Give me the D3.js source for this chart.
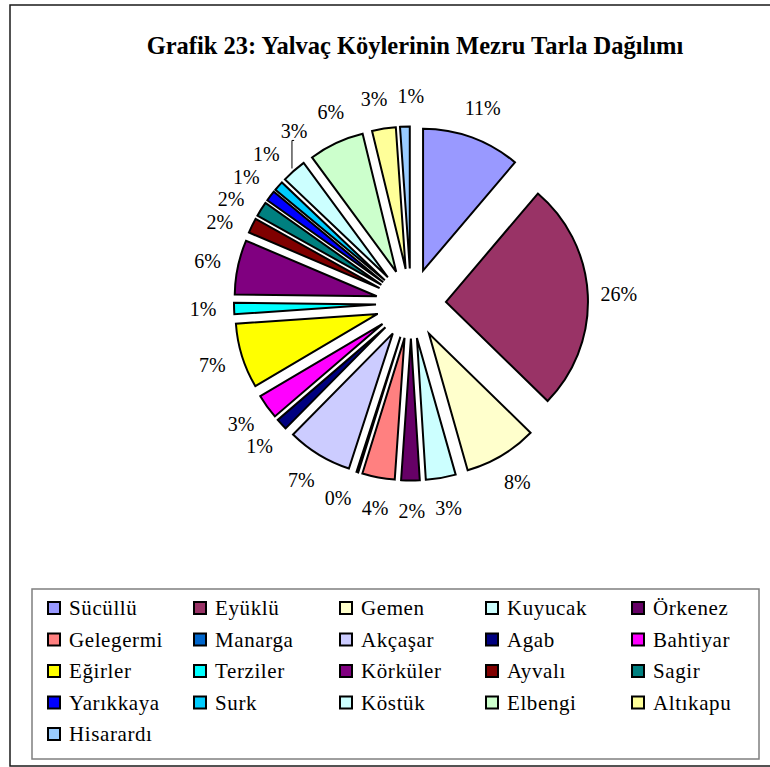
<!DOCTYPE html>
<html>
<head>
<meta charset="utf-8">
<script src="https://cdn.jsdelivr.net/npm/d3@7"></script>
<style>
  html, body { margin: 0; padding: 0; background: #fff; }
  svg { display: block; }
  text { font-family: "Liberation Serif", "Times New Roman", serif; fill: #000; }
</style>
</head>
<body>
<svg id="chart" width="770" height="767"></svg>
<script>
// ---- data ----
const title = "Grafik 23: Yalvaç Köylerinin Mezru Tarla Dağılımı";
const villages = ["Sücüllü","Eyüklü","Gemen","Kuyucak","Örkenez","Gelegermi","Manarga","Akçaşar","Agab","Bahtiyar","Eğirler","Terziler","Körküler","Ayvalı","Sagir","Yarıkkaya","Surk","Köstük","Elbengi","Altıkapu","Hisarardı"];
const shares = [11.2, 26.1, 8.3, 3.4, 2.1, 3.7, 0.2, 7.4, 1.3, 2.8, 7.4, 1.3, 6.2, 1.7, 1.7, 1.2, 1.1, 2.8, 6.3, 2.7, 1.1];
const colors = ["#9999FF","#993366","#FFFFCC","#CCFFFF","#660066","#FF8080","#0066CC","#CCCCFF","#000080","#FF00FF","#FFFF00","#00FFFF","#800080","#800000","#008080","#0000FF","#00CCFF","#CCFFFF","#CCFFCC","#FFFF99","#99CCFF"];

// ---- layout ----
const svg = d3.select("#chart");
const cx = 411, cy = 303.5, R = 142, explode = 35, labelR = 208;

// outer frame
svg.append("rect").attr("x", 10).attr("y", 5).attr("width", 790).attr("height", 761)
  .attr("fill", "#fff").attr("stroke", "#1a1a1a").attr("stroke-width", 1.5);

svg.append("text").attr("x", 415).attr("y", 54).attr("text-anchor", "middle")
  .attr("font-size", 24.5).attr("font-weight", "bold").text(title);

const data = villages.map((v, i) => ({ name: v, value: shares[i], color: colors[i] }));
const total = d3.sum(shares);
const pie = d3.pie().value(d => d.value).sort(null);
const arcs = pie(data);
const arc = d3.arc().innerRadius(0).outerRadius(R);

const g = svg.append("g").attr("transform", `translate(${cx},${cy})`);
arcs.forEach(a => {
  const mid = (a.startAngle + a.endAngle) / 2;
  const dx = explode * Math.sin(mid), dy = -explode * Math.cos(mid);
  g.append("path").attr("d", arc(a))
    .attr("transform", `translate(${dx},${dy})`)
    .attr("fill", a.data.color).attr("stroke", "#000").attr("stroke-width", 2)
    .attr("stroke-linejoin", "miter");
});

// labels: measure, then relax angles until boxes no longer overlap
const fs = 20, boxH = 22.5, padX = 10;
const leaderG = g.append("g");
const labels = arcs.map(a => {
  const mid = (a.startAngle + a.endAngle) / 2;
  const txt = Math.round(a.data.value / total * 100) + "%";
  const el = g.append("text").attr("text-anchor", "middle").attr("dy", "0.35em")
    .attr("font-size", fs).text(txt);
  return { mid, ang: mid, txt, el, w: el.node().getComputedTextLength() };
});
const pos = ang => [labelR * Math.sin(ang), -labelR * Math.cos(ang)];
const n = labels.length;
for (let it = 0; it < 6000; it++) {
  let moved = false;
  for (let i = 0; i < n; i++) {
    const a = labels[i], b = labels[(i + 1) % n];
    const [x1, y1] = pos(a.ang);
    const [x2, y2] = pos(b.ang);
    if (Math.abs(x1 - x2) < (a.w + b.w) / 2 + padX && Math.abs(y1 - y2) < boxH) {
      a.ang -= 0.00085; b.ang += 0.00115; moved = true;
    }
  }
  if (!moved) break;
}
labels.forEach(l => {
  const [x, y] = pos(l.ang);
  l.el.attr("x", x).attr("y", y);
  // short leader line when a label has been pushed away from its slice
  if (Math.abs(l.ang - l.mid) > 0.08) {
    const re = R + explode + 3;
    const sx = re * Math.sin(l.mid), sy = -re * Math.cos(l.mid);
    const side = Math.abs(sx - x) > l.w / 2;
    const ex = side ? x + (sx > x ? 1 : -1) * (l.w / 2 + 2) : x;
    const ey = side ? y : y + (sy > y ? 9 : -9);
    leaderG.append("polyline")
      .attr("points", [[ex, ey], [sx, ey], [sx, sy]].map(p => p.join(",")).join(" "))
      .attr("fill", "none").attr("stroke", "#000").attr("stroke-width", 1);
  }
});

// legend
svg.append("rect").attr("x", 32).attr("y", 589).attr("width", 727).attr("height", 170)
  .attr("fill", "#fff").attr("stroke", "#7f7f7f").attr("stroke-width", 1.5);
const colX = d3.scaleLinear().domain([0, 1]).range([48, 194]);
const rowY = d3.scaleLinear().domain([0, 1]).range([602, 633.5]);
data.forEach((d, i) => {
  const c = i % 5, r = Math.floor(i / 5);
  svg.append("rect").attr("x", colX(c)).attr("y", rowY(r)).attr("width", 12).attr("height", 12)
    .attr("fill", d.color).attr("stroke", "#000").attr("stroke-width", 2);
  svg.append("text").attr("x", colX(c) + 21).attr("y", rowY(r) + 6).attr("dy", "0.35em")
    .attr("font-size", 21).attr("letter-spacing", 0.6).text(d.name);
});
</script>
</body>
</html>
